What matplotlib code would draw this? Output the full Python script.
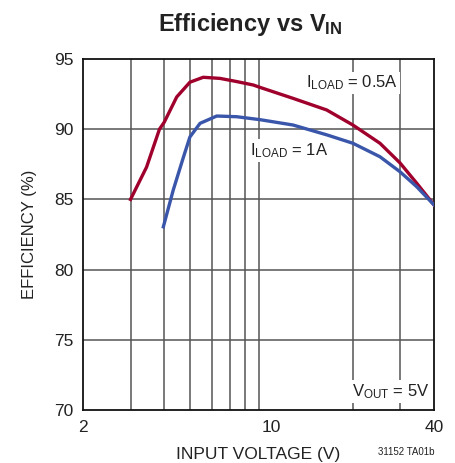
import matplotlib
matplotlib.use('Agg')
import matplotlib.pyplot as plt
from matplotlib.ticker import FixedLocator, NullLocator

# data
vin_05 = [3.0, 3.44, 3.84, 4.0, 4.45, 4.98, 5.58, 6.44, 7.4, 8.55, 9.06, 12.0, 16.0, 20.0, 25.2, 29.9, 34.5, 40.0]
eff_05 = [85.0, 87.3, 90.0, 90.5, 92.3, 93.35, 93.7, 93.62, 93.4, 93.15, 92.98, 92.2, 91.37, 90.3, 89.0, 87.6, 86.15, 84.6]
vin_1 = [3.97, 4.32, 4.71, 4.98, 5.43, 6.26, 7.43, 9.06, 12.0, 16.0, 20.0, 25.2, 29.9, 34.5, 40.0]
eff_1 = [83.05, 85.67, 88.0, 89.45, 90.42, 90.94, 90.89, 90.68, 90.3, 89.6, 89.0, 88.04, 86.97, 85.9, 84.6]

x_major = [2, 10, 40]
x_grid = [3, 4, 5, 6, 7, 8, 9, 20, 30]
y_ticks = [70, 75, 80, 85, 90, 95]

plt.rcParams['font.family'] = ['Liberation Sans', 'DejaVu Sans']
plt.rcParams['mathtext.fontset'] = 'custom'
plt.rcParams['mathtext.rm'] = 'Liberation Sans'
plt.rcParams['mathtext.bf'] = 'Liberation Sans:bold'

fig = plt.figure(figsize=(4.56, 4.63), dpi=100)
ax = fig.add_axes([0.182, 0.1145, 0.770, 0.758])

ax.set_xscale('log')
ax.set_xlim(2, 40)
ax.set_ylim(70, 95)

# grid
for x in x_grid:
    ax.axvline(x, color='#555555', lw=1.1, zorder=1)
for y in y_ticks[1:-1]:
    ax.axhline(y, color='#555555', lw=1.1, zorder=1)

ax.plot(vin_05, eff_05, color='#A0002C', lw=2.4, zorder=3)
ax.plot(vin_1, eff_1, color='#3A56AA', lw=2.4, zorder=3)

ax.xaxis.set_major_locator(FixedLocator(x_major))
ax.xaxis.set_minor_locator(NullLocator())
ax.set_xticklabels(['2', '10', '40'])
ax.set_yticks(y_ticks)
ax.tick_params(length=0, labelsize=12.5, colors='#222222', pad=7)
for s in ax.spines.values():
    s.set_linewidth(1.3)
    s.set_color('#111111')

ax.set_xlabel('INPUT VOLTAGE (V)', fontsize=12.5, color='#222222', labelpad=9)
ax.set_ylabel('EFFICIENCY (%)', fontsize=12, color='#222222', labelpad=12)
fig.text(0.548, 0.948, 'Efficiency vs $\\mathbf{V_{IN}}$', ha='center', va='center',
         fontsize=17, fontweight='bold', color='#222222')

box = dict(facecolor='white', edgecolor='none', pad=1.5)
ax.text(13.4, 93.3, '$\\mathregular{I_{LOAD}}$ = 0.5A', fontsize=12, color='#222222',
        ha='left', va='center', bbox=box, zorder=4)
ax.text(11.6, 88.5, '$\\mathregular{I_{LOAD}}$ = 1A', fontsize=12, color='#222222',
        ha='center', va='center', bbox=box, zorder=4)
ax.text(38.3, 71.3, '$\\mathregular{V_{OUT}}$ = 5V', fontsize=12, color='#222222',
        ha='right', va='center', bbox=box, zorder=4)
fig.text(0.952, 0.012, '31152 TA01b', ha='right', va='bottom', fontsize=7, color='#222222')

fig.savefig('out.png', dpi=100)
